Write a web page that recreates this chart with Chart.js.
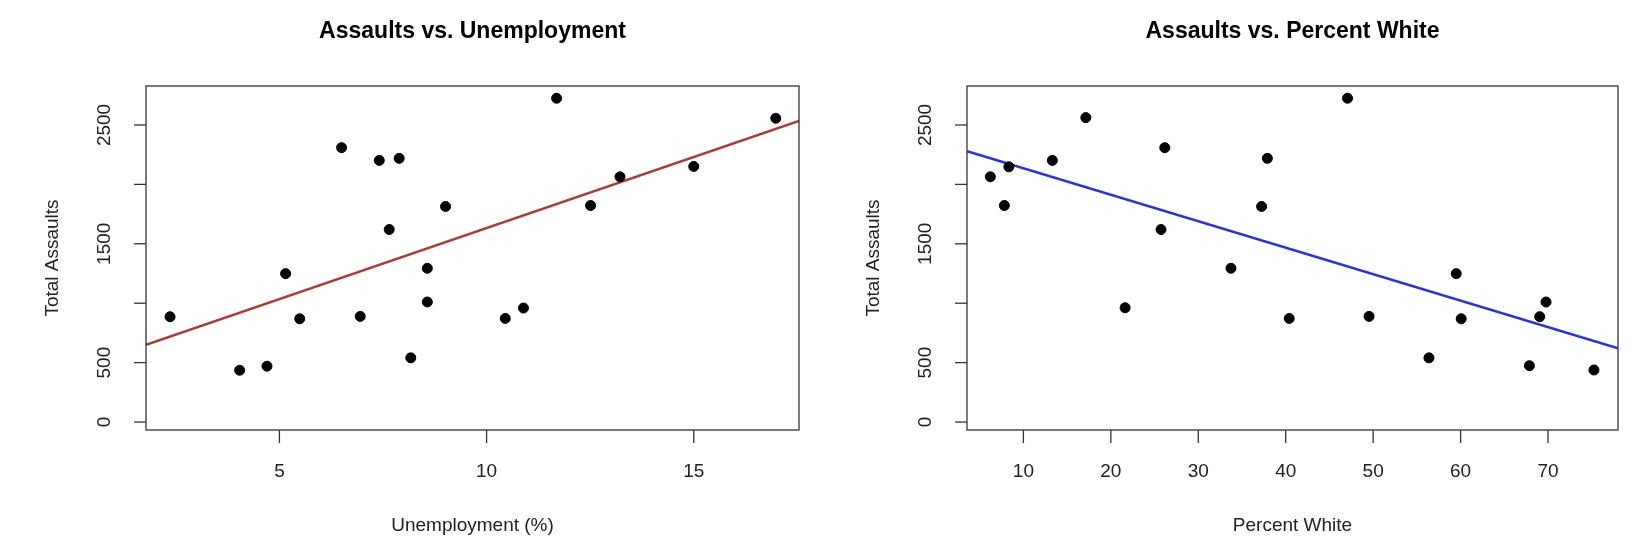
<!DOCTYPE html>
<html lang="en">
<head>
<meta charset="UTF-8">
<title>Assaults</title>
<script src="https://cdn.jsdelivr.net/npm/chart.js"></script>
<style>
  body { margin: 0; background: #fff; }
  .wrap { position: relative; width: 1651px; height: 540px; }
  #left { position: absolute; left: 0; top: 0; }
  #right { position: absolute; left: 825px; top: 0; }
</style>
</head>
<body>
<div class="wrap">
  <canvas id="left" width="825" height="540"></canvas>
  <canvas id="right" width="826" height="540"></canvas>
</div>
<script>
// data
const unemployment = [2.36, 4.04, 4.70, 5.15, 5.49, 6.50, 6.95, 7.41, 7.89, 7.65, 8.17, 8.57, 8.57, 9.01, 10.45, 10.89, 11.69, 12.51, 13.22, 15.0, 16.98];
const assaultsU = [886, 436, 470, 1249, 869, 2309, 889, 2202, 2219, 1620, 540, 1294, 1010, 1814, 872, 959, 2725, 1822, 2064, 2151, 2556];
const percentWhite = [6.22, 7.82, 8.34, 13.31, 17.14, 21.63, 25.74, 26.17, 33.74, 37.24, 37.90, 40.4, 47.07, 49.53, 56.38, 59.5, 60.07, 67.87, 69.05, 69.77, 75.25];
const assaultsW = [2064, 1822, 2148, 2202, 2562, 962, 1620, 2309, 1294, 1814, 2219, 872, 2725, 889, 540, 1249, 869, 474, 887, 1010, 438];
const yTicks = [0, 500, 1000, 1500, 2000, 2500];
const yTickLabels = ['0', '500', '', '1500', '', '2500'];
const xTicksU = [5, 10, 15];
const xTicksW = [10, 20, 30, 40, 50, 60, 70];
// fitted lines (intercept, slope)
const fitU = [437, 119.5];
const fitW = [2359, -22.3];

const FONT = "'Liberation Sans', Arial, sans-serif";

// R-style box, ticks and labels
const rAxes = {
  id: 'rAxes',
  afterDraw(chart, args, o) {
    const { ctx, chartArea: a, scales: { x, y } } = chart;
    ctx.save();
    ctx.strokeStyle = '#333';
    ctx.lineWidth = 1.3;
    ctx.strokeRect(a.left, a.top, a.right - a.left, a.bottom - a.top);
    ctx.fillStyle = '#222';
    ctx.font = '19px ' + FONT;
    // x axis
    ctx.textAlign = 'center';
    ctx.textBaseline = 'middle';
    o.xTicks.forEach(v => {
      const px = x.getPixelForValue(v);
      ctx.beginPath(); ctx.moveTo(px, a.bottom); ctx.lineTo(px, a.bottom + 13); ctx.stroke();
      ctx.fillText(String(v), px, 472);
    });
    // y axis
    yTicks.forEach((v, i) => {
      const py = y.getPixelForValue(v);
      ctx.beginPath(); ctx.moveTo(a.left, py); ctx.lineTo(a.left - 12, py); ctx.stroke();
      if (yTickLabels[i]) {
        ctx.save();
        ctx.translate(a.left - 41, py);
        ctx.rotate(-Math.PI / 2);
        ctx.fillText(yTickLabels[i], 0, 0);
        ctx.restore();
      }
    });
    // axis titles
    ctx.fillText(o.xTitle, (a.left + a.right) / 2, 526);
    ctx.save();
    ctx.translate(a.left - 93, (a.top + a.bottom) / 2);
    ctx.rotate(-Math.PI / 2);
    ctx.fillText('Total Assaults', 0, 0);
    ctx.restore();
    // main title
    ctx.fillStyle = '#000';
    ctx.font = 'bold 23px ' + FONT;
    ctx.fillText(o.title, (a.left + a.right) / 2, 32);
    ctx.restore();
  }
};

function makeChart(id, xs, ys, fit, xMin, xMax, color, pad, opts) {
  const pts = xs.map((v, i) => ({ x: v, y: ys[i] }));
  const line = [xMin, xMax].map(v => ({ x: v, y: fit[0] + fit[1] * v }));
  new Chart(document.getElementById(id), {
    type: 'scatter',
    data: {
      datasets: [
        { data: line, showLine: true, borderColor: color, borderWidth: 2.5, pointRadius: 0, order: 2 },
        { data: pts, backgroundColor: '#000', borderColor: '#000', pointRadius: 5, order: 1 }
      ]
    },
    options: {
      responsive: false,
      animation: false,
      layout: { padding: pad },
      plugins: { legend: { display: false }, tooltip: { enabled: false }, rAxes: opts },
      scales: {
        x: { type: 'linear', min: xMin, max: xMax, display: false },
        y: { type: 'linear', min: -67, max: 2828, display: false }
      }
    },
    plugins: [rAxes]
  });
}

makeChart('left', unemployment, assaultsU, fitU, 1.78, 17.54, '#b03a2e',
  { left: 146, right: 26, top: 86, bottom: 110 },
  { xTicks: xTicksU, xTitle: 'Unemployment (%)', title: 'Assaults vs. Unemployment' });
makeChart('right', percentWhite, assaultsW, fitW, 3.55, 78.0, '#1f2ff5',
  { left: 142, right: 33, top: 86, bottom: 110 },
  { xTicks: xTicksW, xTitle: 'Percent White', title: 'Assaults vs. Percent White' });
</script>
</body>
</html>
